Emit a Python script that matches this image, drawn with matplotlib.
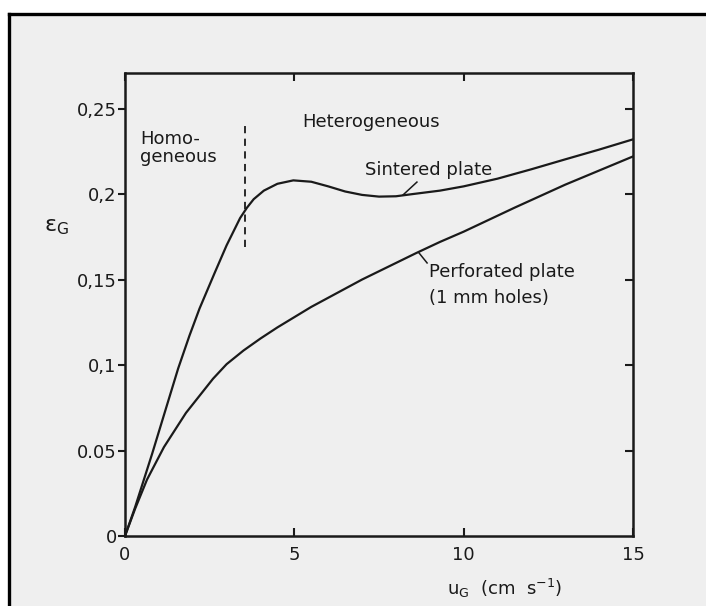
import matplotlib
matplotlib.use("Agg")
import matplotlib.pyplot as plt
from matplotlib.patches import Rectangle
from matplotlib.lines import Line2D

plt.rcParams['font.family'] = ['DejaVu Sans']
plt.rcParams['mathtext.fontset'] = 'dejavusans'

# Gas velocity u_G (cm/s) and gas hold-up eps_G for the two distributors
u_sintered = [0, 0.3, 0.8, 1.2, 1.57, 1.9, 2.2, 2.65, 3.0, 3.2, 3.4, 3.6, 3.8, 4.1,
              4.5, 4.97, 5.5, 6.0, 6.5, 7.0, 7.5, 8.0, 8.5, 9.3, 10, 11, 12, 13, 14, 15]
eps_sintered = [0, 0.017, 0.048, 0.074, 0.098, 0.117, 0.133, 0.154, 0.170, 0.178,
                0.186, 0.192, 0.197, 0.202, 0.206, 0.208, 0.2072, 0.2045, 0.2015,
                0.1995, 0.1985, 0.1987, 0.200, 0.202, 0.2045, 0.209, 0.2145, 0.2203,
                0.226, 0.232]

u_perforated = [0, 0.3, 0.65, 1.15, 1.8, 2.6, 3.0, 3.5, 4.0, 4.5, 5.5, 7.0, 8.6,
                9.3, 10, 11.5, 13, 15]
eps_perforated = [0, 0.016, 0.033, 0.052, 0.072, 0.092, 0.1005, 0.1085, 0.1155,
                  0.122, 0.134, 0.150, 0.1655, 0.172, 0.178, 0.192, 0.2055, 0.222]

# regime transition marker
u_transition = 3.54
eps_transition_span = [0.169, 0.2416]

x_ticks = [0, 5, 10, 15]
x_ticklabels = ["0", "5", "10", "15"]
y_ticks = [0, 0.05, 0.10, 0.15, 0.20, 0.25]
y_ticklabels = ["0", "0.05", "0,1", "0,15", "0,2", "0,25"]

W, H = 706, 606
fig = plt.figure(figsize=(W / 100, H / 100), dpi=100, facecolor='white')

# paper frame
fig.patches.append(Rectangle((9 / W, 0), 1.0, 1 - 14 / H, transform=fig.transFigure,
                             facecolor='#efefef', edgecolor='none', zorder=-10))
fig.add_artist(Line2D([9 / W, 1.0], [1 - 14 / H, 1 - 14 / H], color='black', lw=2.4,
                      transform=fig.transFigure, zorder=-5))
fig.add_artist(Line2D([9 / W, 9 / W], [0, 1 - 14 / H], color='black', lw=2.4,
                      transform=fig.transFigure, zorder=-5))

left, right, top, bottom = 125, 633, 73, 536
ax = fig.add_axes([left / W, (H - bottom) / H, (right - left) / W, (bottom - top) / H])
ax.set_facecolor('none')
ax.set_xlim(0, 15)
ax.set_ylim(0, 0.2708)

ink = '#1a1a1a'
ax.plot(u_sintered, eps_sintered, color=ink, lw=1.6, solid_capstyle='round',
        solid_joinstyle='round')
ax.plot(u_perforated, eps_perforated, color=ink, lw=1.6, solid_capstyle='round',
        solid_joinstyle='round')
ax.plot([u_transition, u_transition], eps_transition_span, color=ink, lw=1.3,
        linestyle=(0, (4, 3)))

for s in ax.spines.values():
    s.set_linewidth(1.8)
    s.set_color(ink)

ax.set_xticks(x_ticks)
ax.set_xticklabels(x_ticklabels)
ax.set_yticks(y_ticks)
ax.set_yticklabels(y_ticklabels)
ax.tick_params(axis='x', direction='in', top=True, length=6, width=1.5, pad=7,
               labelsize=13, colors=ink)
ax.tick_params(axis='y', direction='out', length=5, width=1.5, pad=1,
               labelsize=13, colors=ink)

ax2 = ax.twinx()
ax2.set_ylim(ax.get_ylim())
ax2.set_yticks([0.05, 0.10, 0.15, 0.20, 0.25])
ax2.tick_params(axis='y', direction='in', length=6, width=1.5, labelright=False,
                colors=ink)
for s in ax2.spines.values():
    s.set_visible(False)

fs = 13
ax.text(0.44, 0.2188, "Homo-\ngeneous", fontsize=fs, ha='left', va='baseline',
        linespacing=1.0, color=ink)
ax.text(5.23, 0.239, "Heterogeneous", fontsize=fs, ha='left', va='baseline', color=ink)
ax.text(7.09, 0.211, "Sintered plate", fontsize=fs, ha='left', va='baseline', color=ink)
ax.text(8.98, 0.1515, "Perforated plate", fontsize=fs, ha='left', va='baseline', color=ink)
ax.text(8.98, 0.136, "(1 mm holes)", fontsize=fs, ha='left', va='baseline', color=ink)

# leader strokes from labels to curves
ax.plot([8.21, 8.62], [0.1995, 0.207], color=ink, lw=1.1)
ax.plot([8.68, 8.92], [0.1656, 0.1597], color=ink, lw=1.1)

fig.text(56 / W, 1 - 227 / H, r"$\mathrm{\varepsilon}_{\mathrm{G}}$", fontsize=16,
         ha='center', va='center', color=ink)
fig.text(505 / W, 1 - 588 / H, r"$\mathrm{u_G}$  (cm  s$^{-1}$)", fontsize=fs,
         ha='center', va='center', color=ink)

fig.savefig("out.png", dpi=100, facecolor=fig.get_facecolor())
